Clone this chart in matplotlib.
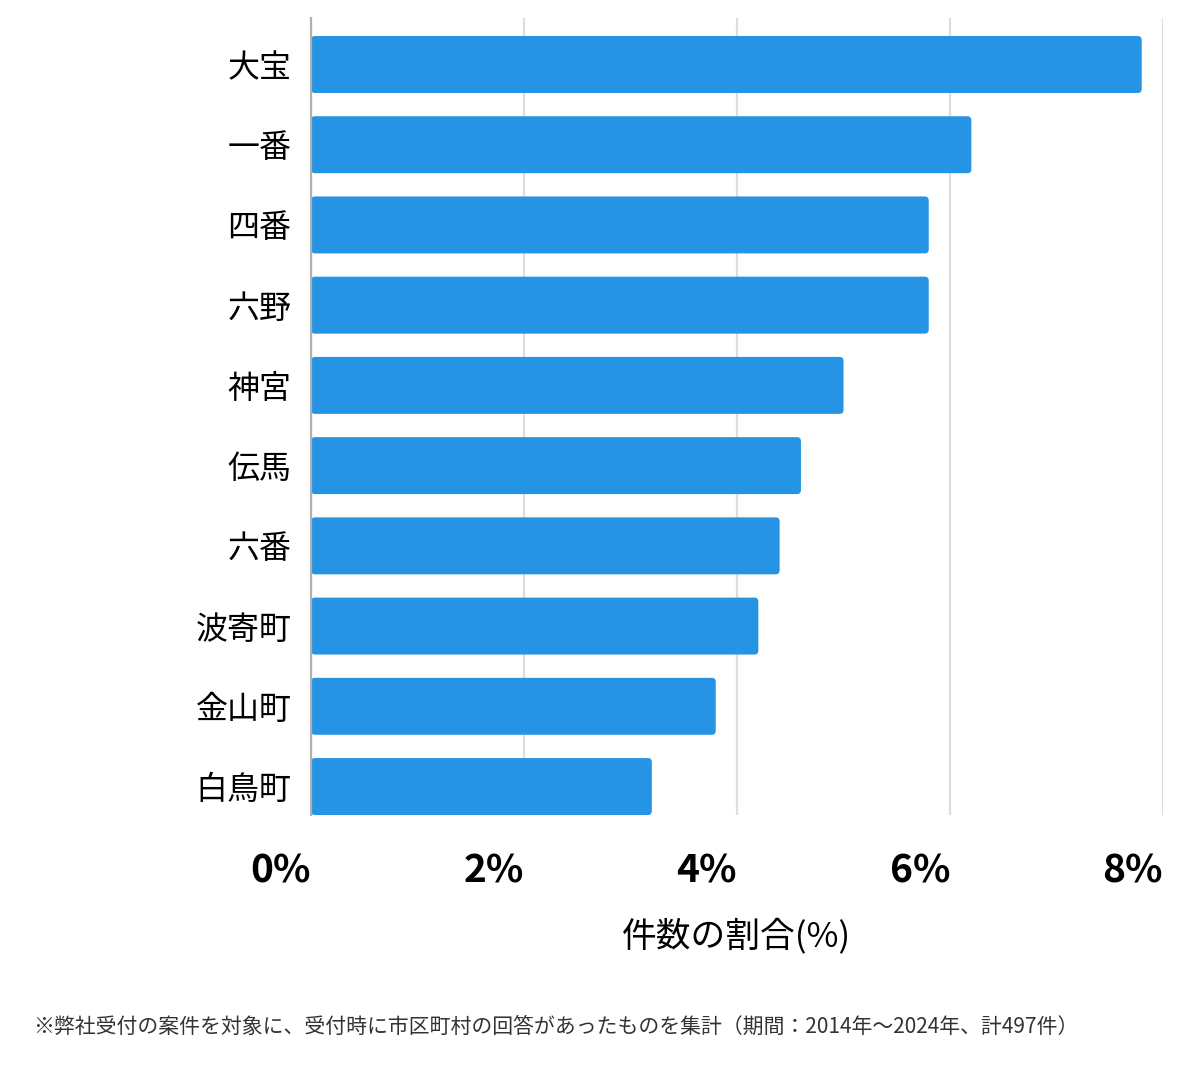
import matplotlib
matplotlib.use('Agg')
import matplotlib.pyplot as plt
from matplotlib.patches import FancyBboxPatch
from matplotlib.ticker import FuncFormatter

plt.rcParams['font.family'] = ['Noto Sans CJK JP', 'DejaVu Sans']

# データ
areas = ['大宝', '一番', '四番', '六野', '神宮', '伝馬', '六番', '波寄町', '金山町', '白鳥町']
shares = [7.8, 6.2, 5.8, 5.8, 5.0, 4.6, 4.4, 4.2, 3.8, 3.2]
xticks = [0, 2, 4, 6, 8]
xlabel = '件数の割合(%)'
note = '※弊社受付の案件を対象に、受付時に市区町村の回答があったものを集計（期間：2014年～2024年、計497件）'

bar_color = '#2594E4'
bar_h = 0.71

fig = plt.figure(figsize=(12, 10.69), dpi=100)
ax = fig.add_axes([0.2592, 0.2376, 0.71, 0.7456])

# 角丸の棒
x_per_px = 8 / 852
y_per_px = 1 / 80.3
for i, v in enumerate(shares):
    p = FancyBboxPatch((0, i - bar_h / 2), v, bar_h,
                       boxstyle=f'round,pad=0,rounding_size={4 * x_per_px}',
                       mutation_aspect=y_per_px / x_per_px,
                       facecolor=bar_color, edgecolor='none', zorder=3)
    ax.add_patch(p)

ax.set_xlim(0, 8)
ax.set_ylim(9 + bar_h / 2, -0.58)
ax.set_yticks(range(len(areas)))
ax.set_yticklabels(areas, fontsize=23, fontweight='normal')
ax.set_xticks(xticks)
ax.xaxis.set_major_formatter(FuncFormatter(lambda v, p: f'{v:.0f}%'))
for lab in ax.get_xticklabels():
    lab.set_fontsize(28)
    lab.set_fontweight('bold')
    lab.set_horizontalalignment('right')

ax.tick_params(axis='y', length=0, pad=14)
ax.tick_params(axis='x', length=0, pad=26)
ax.grid(axis='x', color='#dddddd', linewidth=1.6, zorder=0)
for s in ['top', 'right', 'bottom']:
    ax.spines[s].set_visible(False)
ax.spines['left'].set_color('#b0b0b0')
ax.spines['left'].set_linewidth(1.6)
ax.spines['left'].set_zorder(4)

ax.set_xlabel(xlabel, fontsize=25, labelpad=20)

fig.text(33 / 1200, 1 - 1027 / 1069, note, fontsize=15, color='#333333',
         va='center', ha='left')

fig.savefig('out.png', dpi=100)
